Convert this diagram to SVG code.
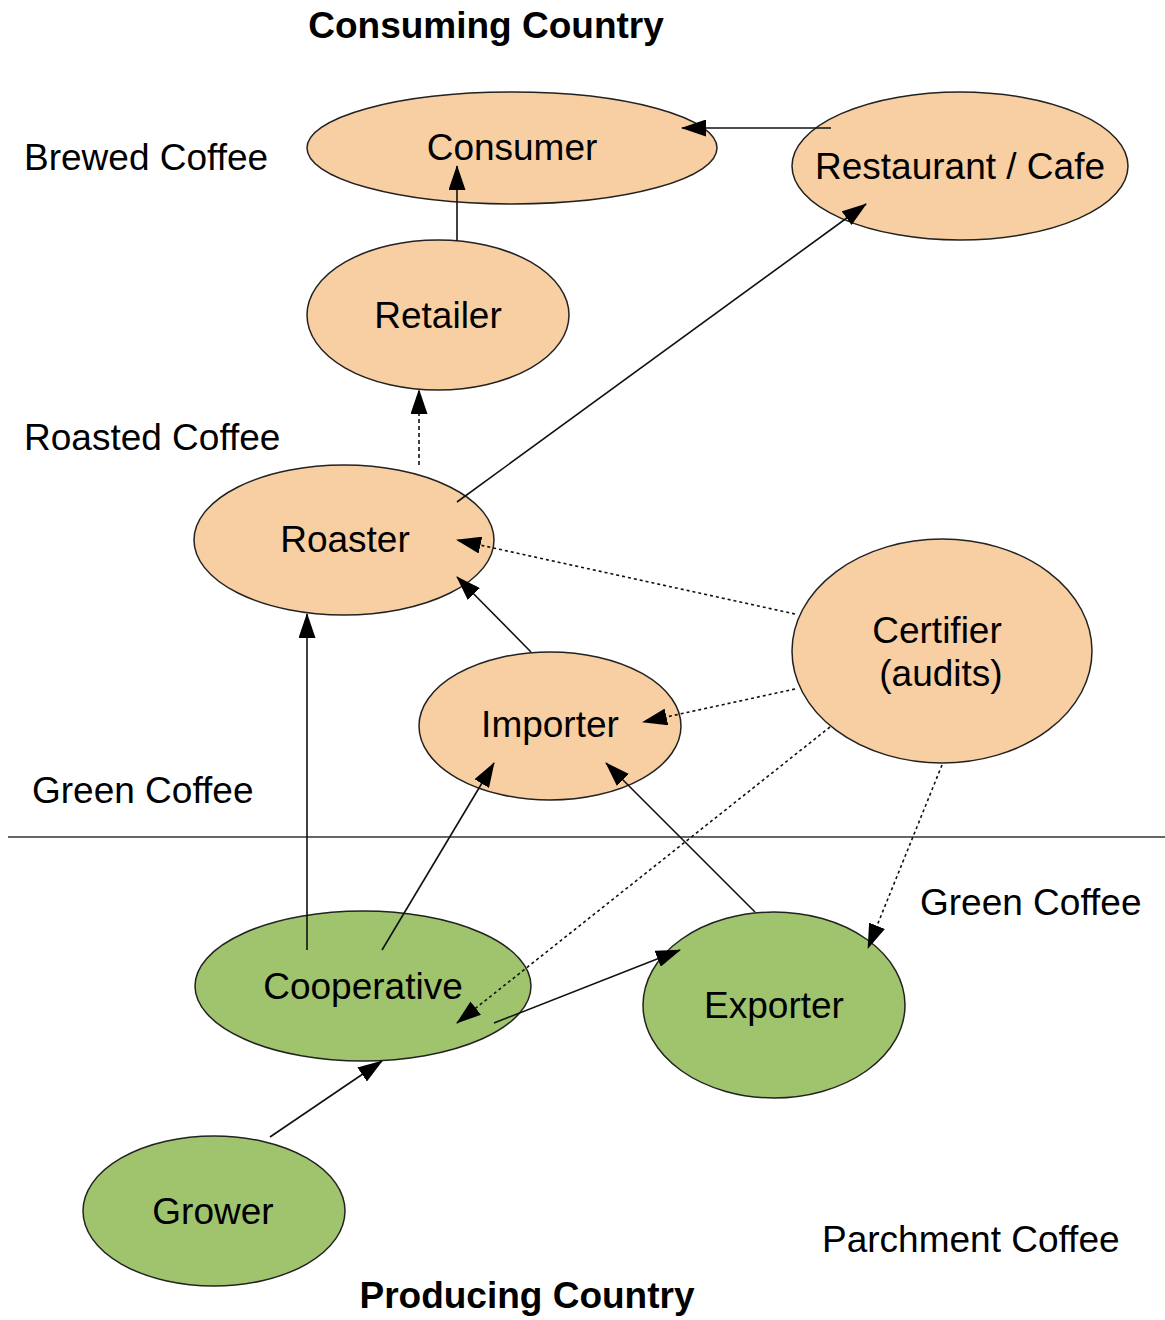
<svg xmlns="http://www.w3.org/2000/svg" width="1165" height="1320" viewBox="0 0 1165 1320">
<style>
text{font-family:"Liberation Sans",Arial,sans-serif;font-size:37px;fill:#000}
.b{font-weight:bold}
.m{text-anchor:middle}
.peach{fill:#f8cfa3;stroke:#222;stroke-width:1.5}
.green{fill:#9fc46d;stroke:#222;stroke-width:1.5}
.c{stroke:#111;stroke-width:1.6;fill:none;marker-end:url(#ah)}
.d{stroke-dasharray:4,3}
.dd{stroke-dasharray:3,3}
</style>
<defs>
<marker id="ah" markerUnits="userSpaceOnUse" markerWidth="25" markerHeight="17" refX="24" refY="8.5" orient="auto">
<path d="M0,0 L25,8.5 L0,17 z" fill="#000"/>
</marker>
</defs>
<rect width="1165" height="1320" fill="#fff"/>
<g id="labels">
<text class="b m" x="486" y="38">Consuming Country</text>
<text x="24" y="170">Brewed Coffee</text>
<text x="24" y="450">Roasted Coffee</text>
<text x="32" y="803">Green Coffee</text>
<text x="920" y="915">Green Coffee</text>
<text x="822" y="1252">Parchment Coffee</text>
<text class="b m" x="527" y="1308">Producing Country</text>
</g>
<line id="divider" x1="8" y1="837" x2="1165" y2="837" stroke="#333" stroke-width="1.5"/>
<g id="node-consumer"><ellipse class="peach" cx="512" cy="148" rx="205" ry="56"/><text class="m" x="512" y="160">Consumer</text></g>
<g id="node-restaurant"><ellipse class="peach" cx="960" cy="166" rx="168" ry="74"/><text class="m" x="960" y="179">Restaurant / Cafe</text></g>
<g id="node-retailer"><ellipse class="peach" cx="438" cy="315" rx="131" ry="75"/><text class="m" x="438" y="328">Retailer</text></g>
<g id="node-roaster"><ellipse class="peach" cx="344" cy="540" rx="150" ry="75"/><text class="m" x="345" y="552">Roaster</text></g>
<g id="node-certifier"><ellipse class="peach" cx="942" cy="651" rx="150" ry="112"/><text class="m" x="937" y="643">Certifier</text><text class="m" x="941" y="686">(audits)</text></g>
<g id="node-importer"><ellipse class="peach" cx="550" cy="726" rx="131" ry="74"/><text class="m" x="550" y="737">Importer</text></g>
<g id="node-cooperative"><ellipse class="green" cx="363" cy="986" rx="168" ry="75"/><text class="m" x="363" y="999">Cooperative</text></g>
<g id="node-exporter"><ellipse class="green" cx="774" cy="1005" rx="131" ry="93"/><text class="m" x="774" y="1018">Exporter</text></g>
<g id="node-grower"><ellipse class="green" cx="214" cy="1211" rx="131" ry="75"/><text class="m" x="213" y="1224">Grower</text></g>
<g id="connectors">
<line class="c" x1="831" y1="128" x2="682" y2="128"/>
<line class="c" x1="457" y1="241" x2="457" y2="166"/>
<line class="c d" x1="419" y1="465" x2="419" y2="390"/>
<line class="c" x1="457" y1="502" x2="866" y2="204"/>
<line class="c dd" x1="795" y1="614" x2="457" y2="540"/>
<line class="c" x1="531" y1="652" x2="457" y2="577"/>
<line class="c dd" x1="795" y1="689" x2="643" y2="722"/>
<line class="c dd" x1="830" y1="727" x2="457" y2="1023"/>
<line class="c dd" x1="942" y1="765" x2="868" y2="948"/>
<line class="c" x1="307" y1="950" x2="307" y2="614"/>
<line class="c" x1="382" y1="950" x2="494" y2="763"/>
<line class="c" x1="755" y1="912" x2="606" y2="763"/>
<line class="c" x1="494" y1="1023" x2="680" y2="950"/>
<line class="c" x1="270" y1="1137" x2="382" y2="1061"/>
</g>
</svg>
